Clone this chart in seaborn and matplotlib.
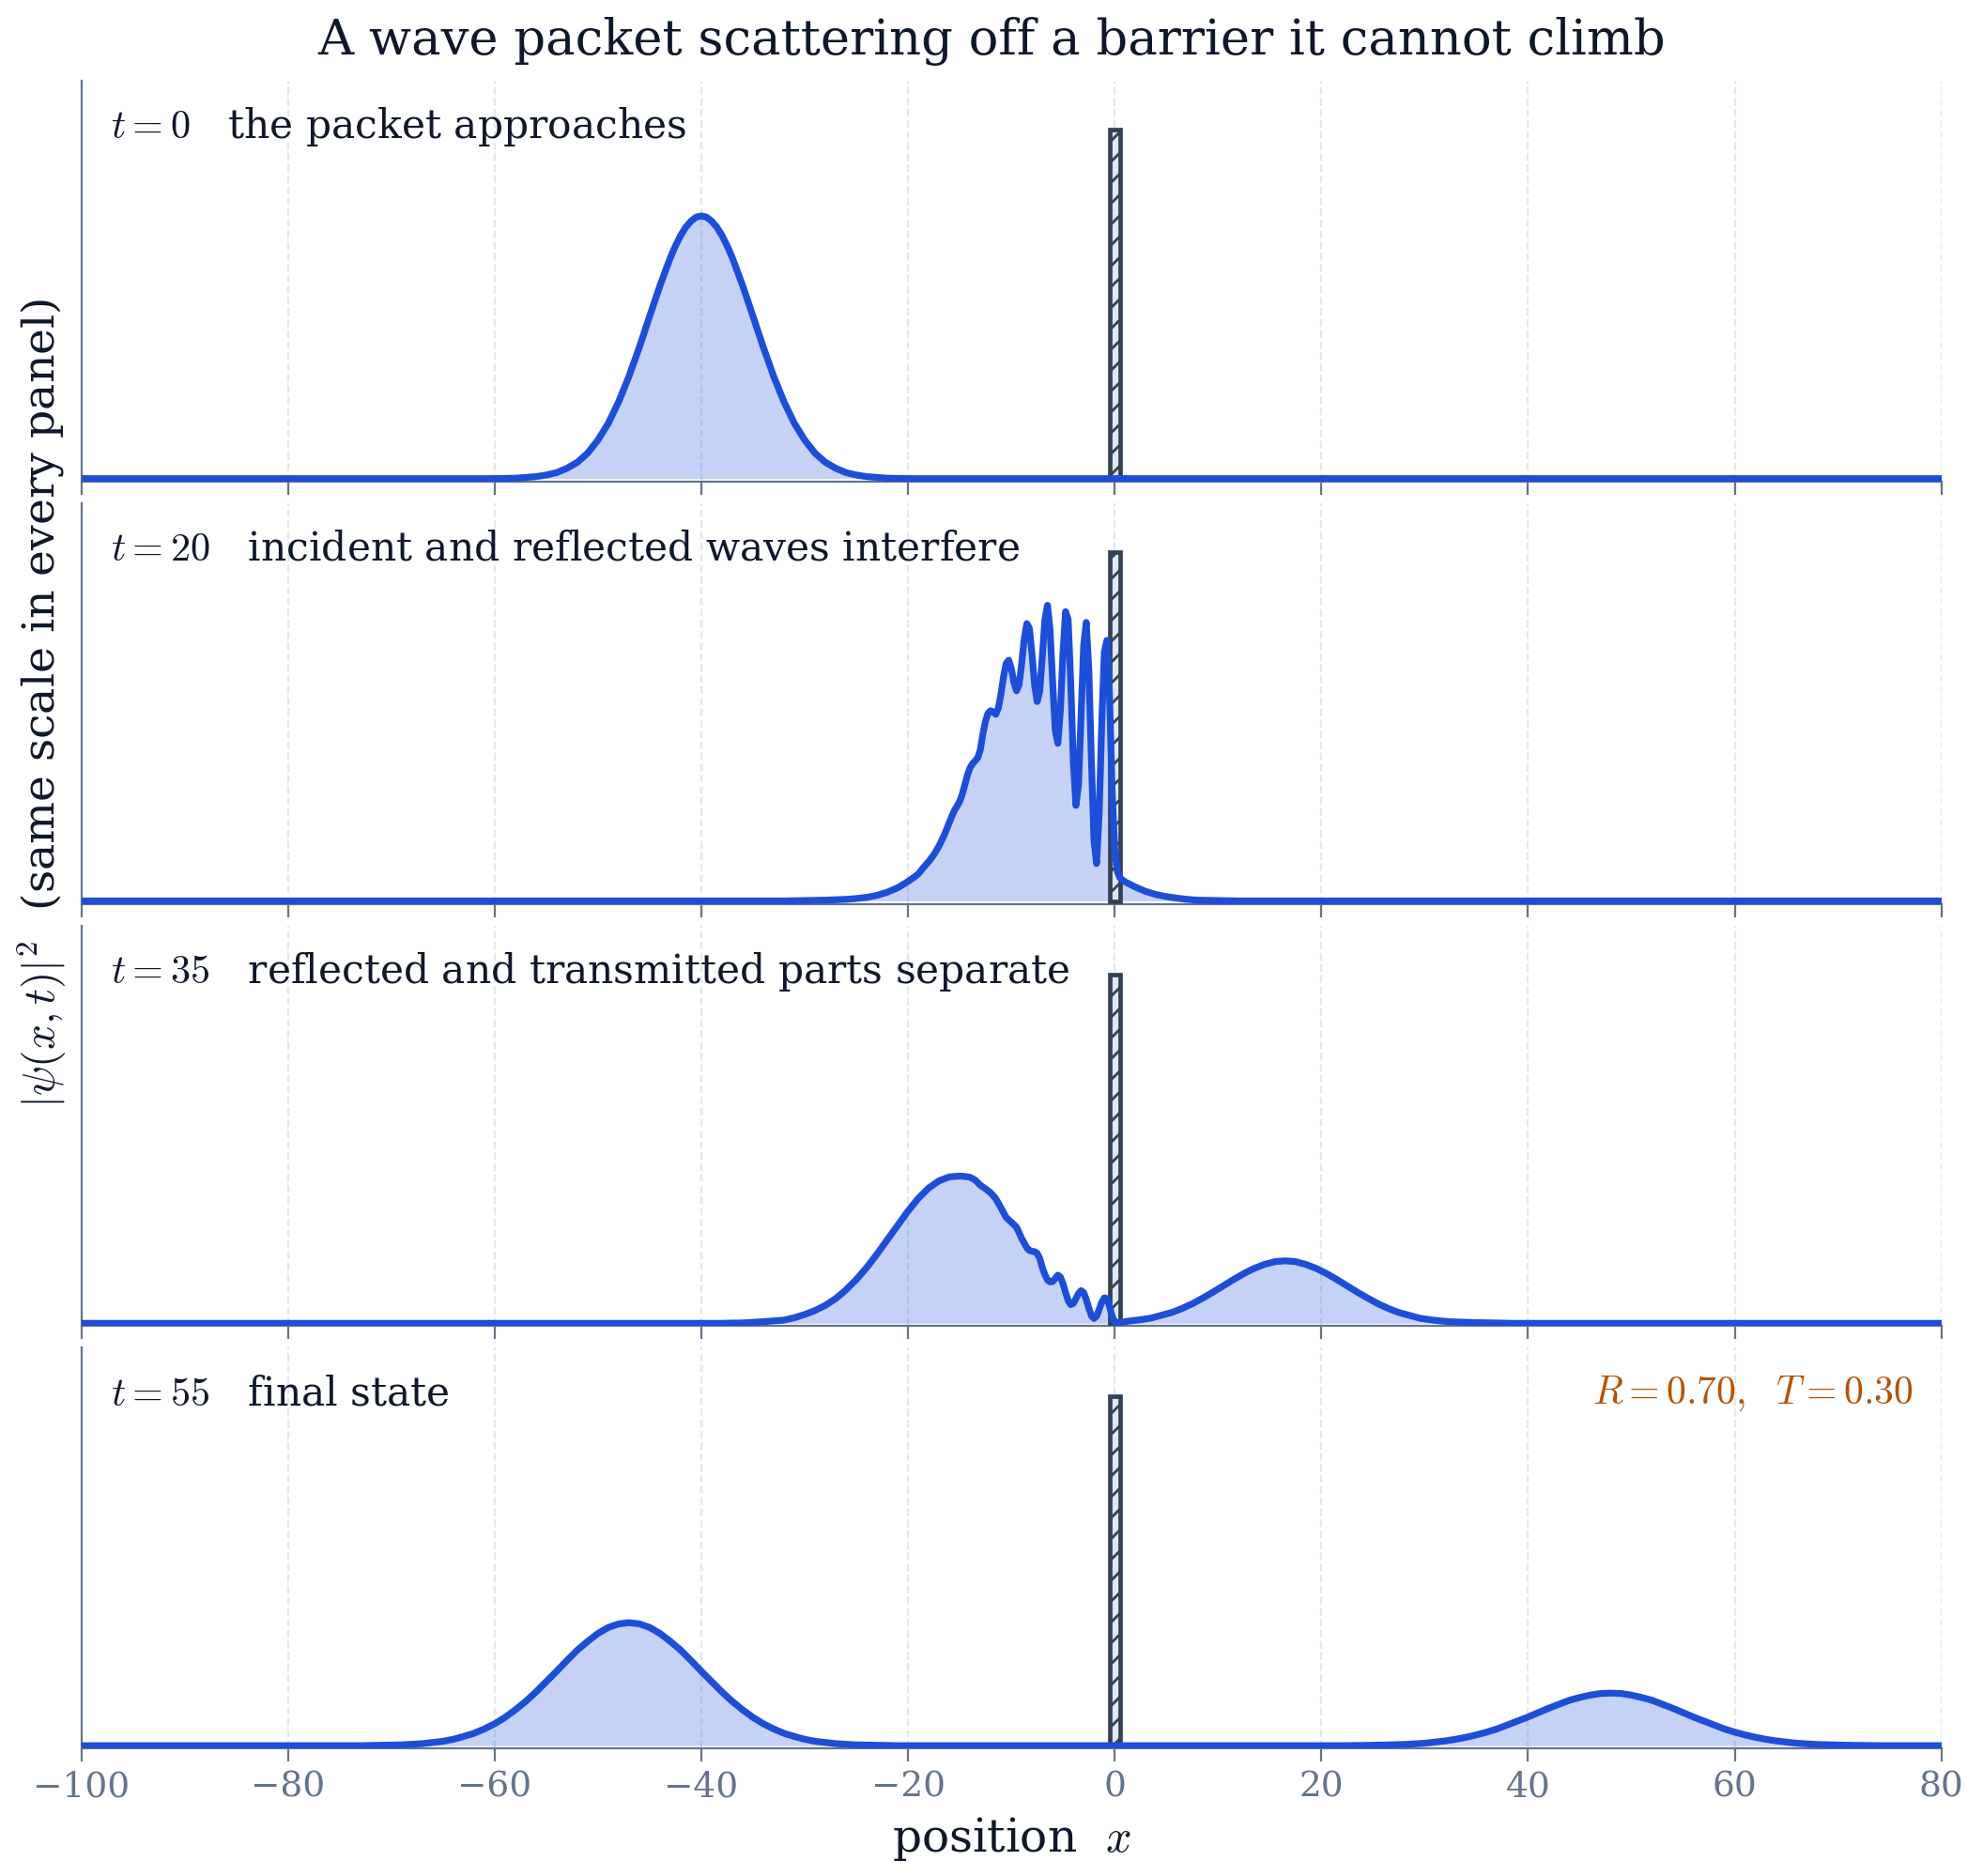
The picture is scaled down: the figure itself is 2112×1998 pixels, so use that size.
import matplotlib
matplotlib.use("Agg")
import matplotlib.pyplot as plt
import seaborn as sns
from matplotlib.patches import Rectangle

# ---------------- data ----------------
times = [0, 20, 35, 55]
captions = [
    "the packet approaches",
    "incident and reflected waves interfere",
    "reflected and transmitted parts separate",
    "final state",
]

x_t0 = [-100, -60, -58, -57, -56, -55, -54, -53, -52, -51, -50, -49, -48, -47, -46, -45,
        -44, -43, -42.5, -42, -41.5, -41, -40.5, -40, -39.5, -39, -38.5, -38, -37.5,
        -37, -36, -35, -34, -33, -32, -31, -30,
        -29, -28, -27, -26, -25, -24, -23, -22, -20, 80]
psi2_t0 = [0.0, 0.0, 0.001, 0.003, 0.005, 0.009, 0.015, 0.026, 0.041, 0.064, 0.097, 0.139,
           0.193, 0.257, 0.330, 0.408, 0.485, 0.555, 0.585, 0.611, 0.632, 0.647, 0.657,
           0.660, 0.657, 0.647, 0.632, 0.611, 0.585,
           0.555, 0.485, 0.408, 0.330, 0.257, 0.193, 0.139, 0.097, 0.064, 0.041, 0.026,
           0.015, 0.009, 0.005, 0.003, 0.001, 0.0, 0.0]

x_t20 = [-100, -32, -30, -28, -26, -25, -24, -23, -22, -21, -20, -19.5, -19, -18.5, -18,
         -17.5, -17, -16.5, -16, -15.75, -15.5, -15.25, -15.0, -14.75, -14.5, -14.25,
         -14.0, -13.75, -13.5, -13.25, -13.0, -12.75, -12.5, -12.25, -12.0, -11.75,
         -11.5, -11.25, -11.0, -10.75, -10.5, -10.25, -10.0, -9.75, -9.5, -9.25, -9.0,
         -8.75, -8.5, -8.25, -8.0, -7.75, -7.5, -7.25, -7.0, -6.75, -6.5, -6.25, -6.0,
         -5.75, -5.5, -5.25, -5.0, -4.75, -4.5, -4.25, -4.0, -3.75, -3.5, -3.25, -3.0,
         -2.75, -2.5, -2.25, -2.0, -1.75, -1.5, -1.25, -1.0, -0.75, -0.5, -0.25, 0.0,
         0.25, 0.5, 1.0, 2.0, 3.0, 4.0, 5.0, 6.0, 7.0, 8.0, 10.0, 12.0, 80]
psi2_t20 = [0.0, 0.0, 0.001, 0.002, 0.004, 0.006, 0.009, 0.014, 0.022, 0.033, 0.049, 0.058,
            0.068, 0.084, 0.099, 0.116, 0.138, 0.165, 0.197, 0.213, 0.228, 0.238, 0.250,
            0.268, 0.292, 0.316, 0.334, 0.345, 0.352, 0.360, 0.380, 0.420, 0.452, 0.472,
            0.478, 0.475, 0.469, 0.485, 0.521, 0.564, 0.597, 0.605, 0.584, 0.549, 0.528,
            0.543, 0.596, 0.660, 0.697, 0.685, 0.621, 0.543, 0.501, 0.527, 0.615, 0.708,
            0.743, 0.680, 0.549, 0.429, 0.396, 0.480, 0.624, 0.727, 0.707, 0.548, 0.350,
            0.240, 0.290, 0.465, 0.643, 0.700, 0.581, 0.353, 0.151, 0.094, 0.221, 0.446,
            0.627, 0.655, 0.520, 0.280, 0.130, 0.075, 0.058, 0.048, 0.035, 0.024, 0.016,
            0.011, 0.007, 0.004, 0.002, 0.001, 0.0, 0.0]

x_t35 = [-100, -38, -36, -34, -32, -31, -30, -29, -28, -27, -26, -25, -24, -23, -22, -21,
         -20, -19, -18, -17, -16, -15, -14.5, -14, -13.5, -13, -12.5, -12, -11.5, -11,
         -10.5, -10, -9.5, -9, -8.5, -8.25, -8.0, -7.75, -7.5, -7.25, -7.0, -6.75, -6.5,
         -6.25, -6.0, -5.75, -5.5, -5.25, -5.0, -4.75, -4.5, -4.25, -4.0, -3.75, -3.5,
         -3.25, -3.0, -2.75, -2.5, -2.25, -2.0, -1.75, -1.5, -1.25, -1.0, -0.75, -0.5,
         -0.25, 0.0, 0.5, 1.5, 2.5, 3.5, 4.5, 5.5, 6.5, 7.5, 8.5, 9.5, 10.5, 11.5, 12.5,
         13.5, 14.5, 15.5, 16.5, 17.5, 18.5, 19.5, 20.5, 21.5, 22.5, 23.5, 24.5, 25.5,
         26.5, 27.5, 28.5, 29.5, 30.5, 31.5, 32.5, 34.5, 36.5, 38.5, 80]
psi2_t35 = [0.0, 0.0, 0.001, 0.004, 0.008, 0.014, 0.022, 0.032, 0.045, 0.062, 0.084, 0.110,
            0.140, 0.174, 0.210, 0.246, 0.282, 0.314, 0.340, 0.358, 0.368, 0.370, 0.369,
            0.367, 0.360, 0.347, 0.338, 0.328, 0.313, 0.290, 0.266, 0.254, 0.242, 0.213,
            0.190, 0.183, 0.181, 0.180, 0.176, 0.163, 0.140, 0.122, 0.109, 0.104, 0.105,
            0.113, 0.121, 0.116, 0.100, 0.077, 0.057, 0.047, 0.050, 0.062, 0.075, 0.082,
            0.077, 0.060, 0.038, 0.019, 0.012, 0.018, 0.035, 0.053, 0.064, 0.062, 0.043,
            0.018, 0.003, 0.002, 0.006, 0.009, 0.013, 0.020, 0.027, 0.037, 0.049, 0.063,
            0.078, 0.094, 0.110, 0.125, 0.138, 0.148, 0.155, 0.157, 0.155, 0.148, 0.138,
            0.125, 0.110, 0.094, 0.078, 0.063, 0.049, 0.037, 0.027, 0.020, 0.013, 0.009,
            0.006, 0.004, 0.002, 0.001, 0.0, 0.0]

x_t55 = [-100, -73, -71, -69, -67, -66, -65, -64, -63, -62, -61, -60, -59, -58, -57, -56,
         -55, -54, -53, -52, -51, -50, -49, -48, -47, -46, -45, -44, -43, -42, -41, -40,
         -39, -38, -37, -36, -35, -34, -33, -32, -31, -30, -29, -28, -27, -25, -23, -21,
         22, 24, 26, 28, 30, 31, 32, 33, 34, 35, 36, 37, 38, 39, 40, 41, 42, 43, 44, 45,
         46, 47, 48, 49, 50, 51, 52, 53, 54, 55, 56, 57, 58, 59, 60, 61, 62, 63, 64, 65,
         66, 68, 70, 72, 74, 80]
psi2_t55 = [0.0, 0.0, 0.001, 0.002, 0.005, 0.008, 0.011, 0.016, 0.023, 0.031, 0.042, 0.055,
            0.071, 0.090, 0.111, 0.135, 0.161, 0.187, 0.214, 0.240, 0.262, 0.282, 0.297,
            0.306, 0.309, 0.306, 0.297, 0.282, 0.262, 0.240, 0.214, 0.187, 0.161, 0.135,
            0.111, 0.090, 0.071, 0.055, 0.042, 0.031, 0.023, 0.016, 0.011, 0.008, 0.005,
            0.002, 0.001, 0.0,
            0.0, 0.0006, 0.0015, 0.003, 0.006, 0.009, 0.012, 0.016, 0.021, 0.027, 0.034,
            0.042, 0.052, 0.062, 0.072, 0.083, 0.094, 0.104, 0.114, 0.121, 0.127, 0.131,
            0.132, 0.131, 0.127, 0.121, 0.114, 0.104, 0.094, 0.083, 0.072, 0.062, 0.052,
            0.042, 0.034, 0.027, 0.021, 0.016, 0.012, 0.009, 0.006, 0.003, 0.0015, 0.0006,
            0.0, 0.0]

barrier_x0, barrier_x1 = -0.5, 0.5
barrier_height = 0.877
R_value, T_value = 0.70, 0.30
x_ticks = [-100, -80, -60, -40, -20, 0, 20, 40, 60, 80]

xs_all = [x_t0, x_t20, x_t35, x_t55]
ys_all = [psi2_t0, psi2_t20, psi2_t35, psi2_t55]

# ---------------- style ----------------
sns.set_theme(style="white")
plt.rcParams["font.family"] = ["DejaVu Serif"]
plt.rcParams["mathtext.fontset"] = "cm"

BLUE = "#1d4ed8"
INK = "#0f172a"
SLATE = "#64748b"
GRID = "#e2e8f0"
BAR_EDGE = "#334155"
ORANGE = "#b45309"

fig, axes = plt.subplots(4, 1, figsize=(10.56, 9.99), dpi=200, sharex=True)
fig.subplots_adjust(left=0.041, right=0.979, top=0.957, bottom=0.068, hspace=0.054)

for i, (ax, t, cap, xs, ys) in enumerate(zip(axes, times, captions, xs_all, ys_all)):
    ax.set_facecolor("white")
    ax.grid(axis="x", color=GRID, linestyle="--", linewidth=0.8)
    ax.grid(axis="y", visible=False)
    ax.set_axisbelow(True)

    ax.fill_between(xs, ys, 0, color=BLUE, alpha=0.25, linewidth=0, zorder=2)
    ax.add_patch(Rectangle((barrier_x0, 0), barrier_x1 - barrier_x0, barrier_height,
                           facecolor=GRID, edgecolor=BAR_EDGE, hatch="///",
                           linewidth=1.7, zorder=3))
    sns.lineplot(x=xs, y=ys, ax=ax, color=BLUE, linewidth=2.6, zorder=4,
                 sort=False, estimator=None)

    ax.set_xlim(-100, 80)
    ax.set_ylim(-0.007, 1.0)
    ax.set_xticks(x_ticks)
    ax.set_yticks([])
    ax.set_ylabel("")
    for side in ("top", "right"):
        ax.spines[side].set_visible(False)
    for side in ("left", "bottom"):
        ax.spines[side].set_color(SLATE)
        ax.spines[side].set_linewidth(0.8)
    ax.tick_params(axis="x", which="both", bottom=True, colors=SLATE, labelsize=13.5,
                   length=5, width=0.8, labelcolor=SLATE)

    ax.text(0.016, 0.885, f"$t={t}$   {cap}", transform=ax.transAxes,
            ha="left", va="center", fontsize=15.25, color=INK)

axes[3].text(0.985, 0.885, rf"$R={R_value:.2f},\ \ T={T_value:.2f}$",
             transform=axes[3].transAxes, ha="right", va="center",
             fontsize=15, color=ORANGE)

axes[1].set_ylabel(r"$|\psi(x,t)|^2$  (same scale in every panel)",
                   fontsize=17, color=INK)
axes[1].yaxis.set_label_coords(-0.007, 0.5)
axes[3].set_xlabel("position  $x$", fontsize=17.5, color=INK, labelpad=4)

fig.text(0.5, 0.978, "A wave packet scattering off a barrier it cannot climb",
         ha="center", va="center", fontsize=19, color=INK)

fig.savefig("out.png", dpi=200)
